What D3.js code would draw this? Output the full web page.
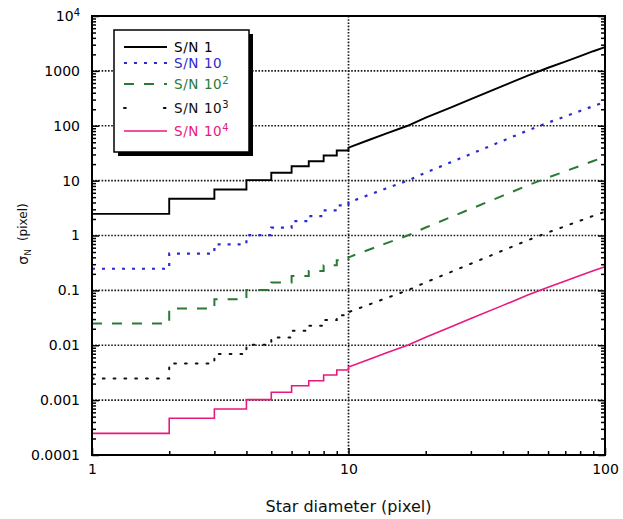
<!DOCTYPE html>
<html>
<head>
<meta charset="utf-8">
<script src="https://cdn.jsdelivr.net/npm/d3@7"></script>
<style>
  html, body { margin: 0; padding: 0; background: #fff; }
  svg { display: block; }
  text { font-family: "DejaVu Sans", Verdana, sans-serif; }
</style>
</head>
<body>
<svg id="chart" width="623" height="519"></svg>
<script>
// ---------------- data ----------------
const diameters = [1,2,3,4,5,6,7,8,9,10,12,14,17,20,25,30,40,50,60,70,80,90,100];
const stepCount = 10; // first 10 points drawn as steps (integer pixel diameters)

const sn1   = [2.48,4.66,6.9,10.2,13.9,18.3,22.6,28.7,35.3,40,55,72,100,140,215,306,533,820,1140,1480,1860,2280,2700];
const sn10  = [0.248,0.466,0.69,1.02,1.39,1.83,2.26,2.87,3.53,4.0,5.5,7.2,10,14,21.5,30.6,53.3,82,114,148,186,228,270];
const sn100 = [0.0248,0.0466,0.069,0.102,0.139,0.183,0.226,0.287,0.353,0.40,0.55,0.72,1.0,1.4,2.15,3.06,5.33,8.2,11.4,14.8,18.6,22.8,27.0];
const sn1e3 = [0.00248,0.00466,0.0069,0.0102,0.0139,0.0183,0.0226,0.0287,0.0353,0.040,0.055,0.072,0.10,0.14,0.215,0.306,0.533,0.82,1.14,1.48,1.86,2.28,2.70];
const sn1e4 = [0.000248,0.000466,0.00069,0.00102,0.00139,0.00183,0.00226,0.00287,0.00353,0.0040,0.0055,0.0072,0.010,0.014,0.0215,0.0306,0.0533,0.082,0.114,0.148,0.186,0.228,0.270];

const seriesNames = ["S/N 1", "S/N 10", "S/N 10", "S/N 10", "S/N 10"];
const seriesSup   = ["", "", "2", "3", "4"];
const seriesData  = [sn1, sn10, sn100, sn1e3, sn1e4];

const yTickValues = [1e-4,1e-3,1e-2,1e-1,1,10,100,1000,1e4];
const yTickLabels = ["0.0001","0.001","0.01","0.1","1","10","100","1000","10"];
const xTickValues = [1,10,100];
const xTickLabels = ["1","10","100"];

// ---------------- styles ----------------
const styles = [
  {color:"#000000", width:1.9, dash:null,      legendDash:null},
  {color:"#2a2ad0", width:2.2, dash:"3,7",     legendDash:"3,7"},
  {color:"#2a7a36", width:2.0, dash:"10,10",   legendDash:"10,10"},
  {color:"#111111", width:2.0, dash:"1.8,9",   legendDash:"1.8,38"},
  {color:"#e8197e", width:1.6, dash:null,      legendDash:null}
];

const svg = d3.select("#chart");
const L = 92, R = 605, T = 16, B = 455;

const x = d3.scaleLog().domain([1,100]).range([L,R]);
const y = d3.scaleLog().domain([1e-4,1e4]).range([B,T]);

// ---------------- grid ----------------
const grid = svg.append("g");
grid.selectAll("line.gy").data(yTickValues.slice(1,-1)).enter().append("line")
  .attr("x1",L).attr("x2",R).attr("y1",d=>y(d)).attr("y2",d=>y(d))
  .attr("stroke","#1a1a1a").attr("stroke-width",1.7).attr("stroke-dasharray","1.6,1.6");
grid.selectAll("line.gx").data(xTickValues.slice(1,-1)).enter().append("line")
  .attr("y1",T).attr("y2",B).attr("x1",d=>x(d)).attr("x2",d=>x(d))
  .attr("stroke","#1a1a1a").attr("stroke-width",1.7).attr("stroke-dasharray","1.6,1.6");

// ---------------- series ----------------
function pathPoints(vals){
  const pts = [];
  for (let i=0;i<diameters.length;i++){
    if (i < stepCount-1){
      pts.push([diameters[i], vals[i]]);
      pts.push([diameters[i+1], vals[i]]);
    } else {
      pts.push([diameters[i], vals[i]]);
    }
  }
  return pts;
}
const line = d3.line().x(d=>x(d[0])).y(d=>y(d[1]));
const plot = svg.append("g");
seriesData.forEach((vals,i)=>{
  const s = styles[i];
  plot.append("path")
    .attr("d", line(pathPoints(vals)))
    .attr("fill","none")
    .attr("stroke", s.color)
    .attr("stroke-width", s.width)
    .attr("stroke-dasharray", s.dash)
    .attr("stroke-linecap", i===3 ? "round" : "butt");
});

// ---------------- axes ----------------
const minorX = [];
[1,10].forEach(b=>{ for(let k=2;k<=9;k++) minorX.push(b*k); });
const minorY = [];
yTickValues.slice(0,-1).forEach(b=>{ for(let k=2;k<=9;k++) minorY.push(b*k); });

const fmtY = d => yTickLabels[yTickValues.indexOf(d)];
const fmtX = d => xTickLabels[xTickValues.indexOf(d)];

function styleAxis(g){
  g.selectAll("path.domain").remove();
  g.selectAll("line").attr("stroke","#000").attr("stroke-width",1.5);
  g.selectAll("text").attr("fill","#000").attr("font-size",14)
    .attr("font-family","DejaVu Sans, Verdana, sans-serif");
}

const yAxisG = svg.append("g").attr("transform",`translate(${L},0)`)
  .call(d3.axisLeft(y).tickValues(yTickValues).tickFormat(fmtY).tickSize(-7).tickSizeOuter(0).tickPadding(12));
styleAxis(yAxisG);
svg.append("g").attr("transform",`translate(${L},0)`)
  .call(d3.axisLeft(y).tickValues(minorY).tickFormat("").tickSize(-4).tickSizeOuter(0)).call(styleAxis);
svg.append("g").attr("transform",`translate(${R},0)`)
  .call(d3.axisRight(y).tickValues(yTickValues).tickFormat("").tickSize(-7).tickSizeOuter(0)).call(styleAxis);
svg.append("g").attr("transform",`translate(${R},0)`)
  .call(d3.axisRight(y).tickValues(minorY).tickFormat("").tickSize(-4).tickSizeOuter(0)).call(styleAxis);

// superscript on top label 10^4
yAxisG.selectAll(".tick").filter(d=>d===1e4).select("text")
  .append("tspan").attr("dy","-0.45em").attr("font-size",10).text("4");

const xAxisG = svg.append("g").attr("transform",`translate(0,${B})`)
  .call(d3.axisBottom(x).tickValues(xTickValues).tickFormat(fmtX).tickSize(-7).tickSizeOuter(0).tickPadding(9));
styleAxis(xAxisG);
svg.append("g").attr("transform",`translate(0,${B})`)
  .call(d3.axisBottom(x).tickValues(minorX).tickFormat("").tickSize(-4).tickSizeOuter(0)).call(styleAxis);

// frame
svg.append("rect").attr("x",L).attr("y",T).attr("width",R-L).attr("height",B-T)
  .attr("fill","none").attr("stroke","#000").attr("stroke-width",2);

// ---------------- titles ----------------
svg.append("text").attr("x",(L+R)/2).attr("y",512).attr("text-anchor","middle")
  .attr("font-size",16).attr("fill","#111").text("Star diameter (pixel)");

const yt = svg.append("text").attr("transform","translate(28,234) rotate(-90)")
  .attr("text-anchor","middle").attr("font-size",12).attr("fill","#111");
yt.append("tspan").attr("font-size",14).text("σ");
yt.append("tspan").attr("font-size",9).attr("dy","0.35em").text("N");
yt.append("tspan").attr("dy","-0.35em").attr("dx",8).text("(pixel)");

// ---------------- legend ----------------
const lg = svg.append("g");
const bx = 114, by = 30, bw = 135, bh = 122;
lg.append("rect").attr("x",bx+4).attr("y",by+4).attr("width",bw).attr("height",bh).attr("fill","#000");
lg.append("rect").attr("x",bx).attr("y",by).attr("width",bw).attr("height",bh)
  .attr("fill","#fff").attr("stroke","#000").attr("stroke-width",1.5);
const rowsY = [47, 63, 84, 108, 131];
seriesNames.forEach((name,i)=>{
  const s = styles[i];
  lg.append("line").attr("x1",124).attr("x2",167).attr("y1",rowsY[i]).attr("y2",rowsY[i])
    .attr("stroke",s.color).attr("stroke-width",s.width)
    .attr("stroke-dasharray",s.legendDash).attr("stroke-linecap", i===3 ? "round":"butt");
  const t = lg.append("text").attr("x",174).attr("y",rowsY[i]).attr("dy","0.36em")
    .attr("font-size",13.5).attr("letter-spacing",0.6).attr("fill",s.color).text(name);
  if (seriesSup[i]) t.append("tspan").attr("dy","-0.5em").attr("font-size",10).text(seriesSup[i]);
});
</script>
</body>
</html>
